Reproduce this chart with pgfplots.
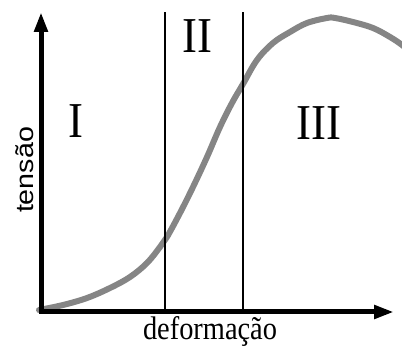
\documentclass[border=0pt]{standalone}
\usepackage{pgfplots}
\pgfplotsset{compat=1.18}
\usepackage{fontspec}
\setmainfont{Liberation Serif}
\newfontfamily\arial{Liberation Sans}
\usetikzlibrary{arrows.meta}
\begin{document}
\begin{tikzpicture}
\begin{axis}[
  name=ax,
  width=402bp, height=347bp, scale only axis,
  xmin=0, xmax=402, ymin=0, ymax=347,
  axis lines=none, ticks=none,
  clip=true,
]
% curve
\addplot[line width=6bp, color=black!48, smooth, tension=0.6, line cap=round] coordinates {
(39,37) (63,42) (87,49) (110,59) (130,70) (147,84) (160,100) (167,110)
(180,134) (193,160) (207,190) (220,220) (232,244) (243,263) (257,287)
(273,304) (290,315) (307,324) (327,329) (335,329) (353,325) (373,319)
(390,310) (402,302) (414,292)
};
% axes
\addplot[line width=5bp, -{Triangle[length=20bp,width=13bp]}] coordinates {(41,33) (41,335)};
\addplot[line width=5bp, -{Triangle[length=20bp,width=13bp]}] coordinates {(39,35) (394,35)};
% region boundaries
\addplot[line width=1.4bp, black] coordinates {(165,35) (165,335)};
\addplot[line width=1.4bp, black] coordinates {(243,35) (243,335)};
% labels
\node[anchor=base, inner sep=0pt, yscale=1.12, font=\fontsize{45}{45}\selectfont] at (axis cs:76,209) {I};
\node[anchor=base, inner sep=0pt, yscale=1.12, font=\fontsize{45}{45}\selectfont] at (axis cs:197,294) {II};
\node[anchor=base, inner sep=0pt, yscale=1.12, font=\fontsize{45}{45}\selectfont] at (axis cs:319,207) {III};
\node[anchor=base, inner sep=0pt, yscale=1.15, font=\fontsize{28.5}{28.5}\selectfont] at (axis cs:210,7) {deformação};
\node[anchor=base, inner sep=0pt, rotate=90, xscale=1.15, font=\arial\fontsize{25}{25}\selectfont] at (axis cs:33,177) {tensão};
\end{axis}
\pgfresetboundingbox
\path[use as bounding box] (ax.south west) rectangle (ax.north east);
\end{tikzpicture}
\end{document}
